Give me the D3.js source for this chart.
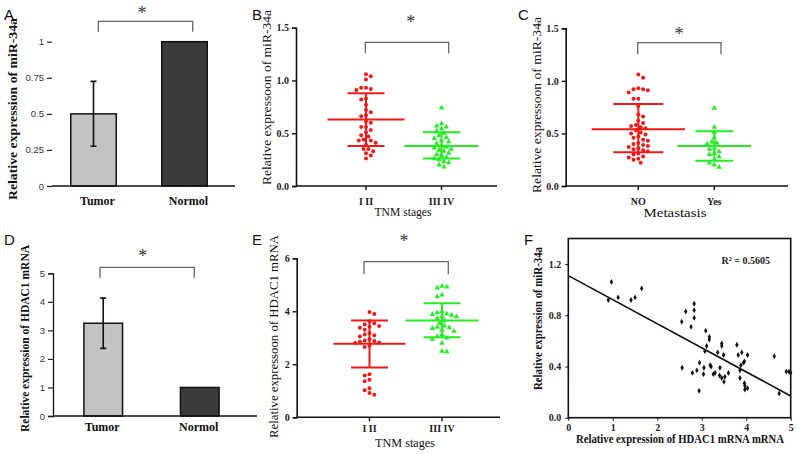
<!DOCTYPE html>
<html><head><meta charset="utf-8">
<script src="https://cdn.jsdelivr.net/npm/d3@7"></script>
<style>body{margin:0;background:#fff} svg{display:block}</style>
</head><body><svg id="c" width="800" height="454"></svg>
<script>
// ---------------- DATA ----------------
const barCats = ["Tumor", "Normol"];
const mirBarMeans = [0.5, 1.0];
const mirBarErr = [0.225, 0];
const mirBarTicks = [0, 0.25, 0.5, 0.75, 1];
const hdacBarMeans = [3.25, 1.0];
const hdacBarErr = [0.88, 0];
const hdacBarTicks = [0, 1, 2, 3, 4, 5];

const stageCats = ["I II", "III IV"];
const metCats = ["NO", "Yes"];
const mirTicks = [0, 0.5, 1.0, 1.5];
const hdacTicks = [0, 2, 4, 6];

// B: miR-34a by TNM stage
const mirStageI = [1.06, 1.04, 1.01, 0.93, 0.93, 0.92, 0.91, 0.83, 0.82, 0.77, 0.72, 0.70, 0.67, 0.66,
  0.61, 0.60, 0.56, 0.56, 0.53, 0.51, 0.48, 0.47, 0.44, 0.43, 0.43, 0.41, 0.39, 0.35, 0.35, 0.33, 0.31, 0.29, 0.26];
const mirStageIII = [0.74, 0.59, 0.57, 0.56, 0.54, 0.52, 0.50, 0.48, 0.46, 0.45, 0.43, 0.42, 0.40, 0.38,
  0.37, 0.36, 0.35, 0.34, 0.33, 0.31, 0.30, 0.29, 0.27, 0.26, 0.25, 0.23, 0.22, 0.20, 0.18];
const mirStageMean = [0.63, 0.38];
const mirStageHi = [0.88, 0.51];
const mirStageLo = [0.38, 0.26];

// C: miR-34a by metastasis
const mirMetNo = [1.06, 1.03, 0.93, 0.92, 0.92, 0.91, 0.89, 0.83, 0.83, 0.76, 0.68, 0.66, 0.62, 0.60, 0.58,
  0.57, 0.56, 0.55, 0.53, 0.51, 0.50, 0.49, 0.47, 0.46, 0.44, 0.43, 0.41, 0.40, 0.39, 0.38, 0.37, 0.36,
  0.35, 0.34, 0.33, 0.31, 0.30, 0.28, 0.27, 0.26, 0.25, 0.22];
const mirMetYes = [0.74, 0.56, 0.51, 0.46, 0.42, 0.41, 0.40, 0.36, 0.35, 0.33, 0.31, 0.30, 0.28, 0.25, 0.22, 0.20, 0.18];
const mirMetMean = [0.54, 0.38];
const mirMetHi = [0.78, 0.52];
const mirMetLo = [0.32, 0.24];

// E: HDAC1 mRNA by TNM stage
const hdacStageI = [3.97, 3.90, 3.62, 3.55, 3.50, 3.45, 3.42, 3.38, 3.30, 3.18, 3.12, 3.10, 3.05, 2.95, 2.90,
  2.88, 2.85, 2.82, 2.80, 2.70, 2.65, 1.62, 1.58, 1.42, 1.36, 1.10, 1.02, 0.92, 0.85];
const hdacStageIII = [4.95, 4.92, 4.88, 4.62, 4.55, 4.00, 3.95, 3.90, 3.88, 3.85, 3.82, 3.80, 3.72, 3.65,
  3.55, 3.45, 3.40, 3.38, 3.35, 3.30, 3.25, 3.12, 3.05, 3.00, 2.95, 2.80, 2.50, 2.48];
const hdacStageMean = [2.78, 3.65];
const hdacStageHi = [3.65, 4.30];
const hdacStageLo = [1.88, 3.02];

// F: correlation
const corrHdac = [0.90, 0.97, 1.12, 1.41, 1.50, 1.65, 2.55, 2.64, 2.76, 2.83, 2.83, 2.83, 2.56, 2.79, 2.89, 2.94,
  2.95, 3.05, 3.04, 3.07, 3.09, 3.11, 3.17, 3.17, 3.19, 3.21, 3.26, 3.30, 3.36, 3.41, 3.40, 3.45, 3.45, 3.45,
  3.49, 3.50, 3.52, 3.60, 3.79, 3.82, 3.88, 3.86, 3.86, 3.90, 3.94, 3.96, 3.96, 3.97, 3.97, 4.03, 4.03, 4.63,
  4.74, 4.90, 4.96, 5.00];
const corrMir = [0.92, 1.06, 0.94, 0.92, 0.94, 1.01, 0.75, 0.83, 0.71, 0.78, 0.89, 0.84, 0.39, 0.35, 0.37, 0.21,
  0.43, 0.39, 0.34, 0.52, 0.68, 0.56, 0.63, 0.61, 0.41, 0.40, 0.34, 0.35, 0.51, 0.39, 0.33, 0.58, 0.56, 0.31,
  0.49, 0.28, 0.32, 0.35, 0.57, 0.49, 0.41, 0.37, 0.31, 0.51, 0.43, 0.44, 0.27, 0.25, 0.22, 0.49, 0.23, 0.48,
  0.19, 0.36, 0.36, 0.35];
const fitIntercept = 1.11;
const fitSlope = -0.188;
const rSquared = "R\u00B2 = 0.5605";
const corrXTicks = [0, 1, 2, 3, 4, 5];
const corrYTicks = [0.0, 0.4, 0.8, 1.2];

// ---------------- DRAWING ----------------
const svg = d3.select("#c");
const SERIF = "'Liberation Serif','Times New Roman',serif";
const SANS = "'Liberation Sans',Arial,sans-serif";
const RED = "#f21818", GREEN = "#22ee22";

function letter(t, x, y) {
  svg.append("text").attr("x", x).attr("y", y).text(t)
    .attr("font-family", SANS).attr("font-size", 15).attr("fill", "#111");
}
function yLabel(t, cx, cy, len, bold) {
  svg.append("text").attr("transform", `translate(${cx},${cy}) rotate(-90)`)
    .attr("text-anchor", "middle").attr("font-family", SERIF)
    .attr("font-weight", bold ? "bold" : "normal").attr("font-size", 12)
    .attr("textLength", len).attr("lengthAdjust", "spacingAndGlyphs")
    .attr("fill", "#111").text(t);
}
function xLabel(t, cx, y, len, bold, fs) {
  svg.append("text").attr("x", cx).attr("y", y).attr("text-anchor", "middle")
    .attr("font-family", SERIF).attr("font-weight", bold ? "bold" : "normal")
    .attr("font-size", fs || 12).attr("textLength", len).attr("lengthAdjust", "spacingAndGlyphs")
    .attr("fill", "#111").text(t);
}
function star(x, y) {
  svg.append("text").attr("x", x).attr("y", y + 7).attr("text-anchor", "middle")
    .attr("font-family", SERIF).attr("font-size", 18).attr("fill", "#333").text("*");
}
function bracket(x1, x2, top, bot) {
  svg.append("path").attr("d", `M${x1},${bot}V${top}H${x2}V${bot}`)
    .attr("fill", "none").attr("stroke", "#666").attr("stroke-width", 1.3);
}

// ---- Bar panels (A, D) ----
function barPanel(o) {
  const y = d3.scaleLinear().domain(o.domain).range(o.yRange);
  const x = d3.scaleBand().domain(barCats).range(o.xRange).paddingInner(o.pi).paddingOuter(o.po);
  const g = svg.append("g");
  // y ticks
  const ya = g.append("g").attr("transform", `translate(${o.axisX},0)`)
    .call(d3.axisLeft(y).tickValues(o.ticks).tickSize(5).tickPadding(3).tickFormat(d => String(d)));
  ya.select(".domain").attr("stroke", o.yLine ? "#111" : "none").attr("stroke-width", 1.3);
  ya.selectAll(".tick line").attr("stroke", "#222").attr("stroke-width", 1.2);
  ya.selectAll(".tick text").attr("font-family", SANS).attr("font-size", 9.5).attr("fill", "#333");
  // bars
  g.selectAll("rect.bar").data(o.means).enter().append("rect")
    .attr("x", (d, i) => x(barCats[i])).attr("width", x.bandwidth())
    .attr("y", d => y(d)).attr("height", d => y(0) - y(d))
    .attr("fill", (d, i) => i === 0 ? "#c3c3c3" : "#3b3b3b")
    .attr("stroke", "#111").attr("stroke-width", 1.5);
  // error bars
  o.means.forEach((m, i) => {
    if (!o.err[i]) return;
    const cx = x(barCats[i]) + x.bandwidth() / 2;
    g.append("path").attr("d",
      `M${cx},${y(m - o.err[i])}V${y(m + o.err[i])}M${cx - 3},${y(m + o.err[i])}H${cx + 3}M${cx - 3},${y(m - o.err[i])}H${cx + 3}`)
      .attr("stroke", "#111").attr("stroke-width", 1.6).attr("fill", "none");
  });
  // x axis line
  g.append("line").attr("x1", o.axisX).attr("x2", o.xEnd).attr("y1", y(0)).attr("y2", y(0))
    .attr("stroke", "#111").attr("stroke-width", 1.3);
  barCats.forEach(c => {
    g.append("text").attr("x", x(c) + x.bandwidth() / 2 + o.labShift).attr("y", o.labY)
      .attr("text-anchor", "middle").attr("font-family", SERIF).attr("font-weight", "bold")
      .attr("font-size", 12).attr("fill", "#111").text(c);
  });
}

barPanel({domain: [0, 1], yRange: [186, 41.7], xRange: [48, 230], pi: 0.5, po: 0.25,
  ticks: mirBarTicks, axisX: 52, yLine: false, xEnd: 235, means: mirBarMeans, err: mirBarErr, labY: 205, labShift: 4});
barPanel({domain: [0, 5], yRange: [416, 273.3], xRange: [53, 250], pi: 0.6, po: 0.32,
  ticks: hdacBarTicks, axisX: 53, yLine: true, xEnd: 257, means: hdacBarMeans, err: hdacBarErr, labY: 431, labShift: -1});

// ---- Scatter (dot plot) panels (B, C, E) ----
function dodge(vals, y, cx, minDist, step) {
  const placed = [], out = [];
  const idx = vals.map((v, i) => i).sort((a, b) => vals[b] - vals[a]);
  idx.forEach((i, n) => {
    const py = y(vals[i]);
    let px = null;
    for (let k = 0; px === null; k++) {
      const offs = k === 0 ? [0] : (n % 2 ? [k * step, -k * step] : [-k * step, k * step]);
      for (const o of offs) {
        if (placed.every(p => Math.hypot(p[0] - (cx + o), p[1] - py) >= minDist)) { px = cx + o; break; }
      }
    }
    placed.push([px, py]); out[i] = [px, py];
  });
  return out;
}

function dotPanel(o) {
  const y = d3.scaleLinear().domain(o.domain).range(o.yRange);
  const x = d3.scalePoint().domain(o.cats).range(o.catX);
  const g = svg.append("g");
  const ya = g.append("g").attr("transform", `translate(${o.axisX},0)`)
    .call(d3.axisLeft(y).tickValues(o.ticks).tickSize(4).tickPadding(3).tickFormat(o.fmt));
  ya.select(".domain").attr("stroke", "#111").attr("stroke-width", 1.6);
  ya.selectAll(".tick line").attr("stroke", "#111").attr("stroke-width", 1.4);
  ya.selectAll(".tick text").attr("font-family", SERIF).attr("font-weight", "bold").attr("font-size", 10).attr("fill", "#222");
  // x axis
  g.append("line").attr("x1", o.axisX).attr("x2", o.xEnd).attr("y1", y(o.domain[0])).attr("y2", y(o.domain[0]))
    .attr("stroke", "#111").attr("stroke-width", 1.6);
  o.cats.forEach(c => {
    g.append("line").attr("x1", x(c)).attr("x2", x(c)).attr("y1", y(o.domain[0])).attr("y2", y(o.domain[0]) + 4)
      .attr("stroke", "#111").attr("stroke-width", 1.4);
    g.append("text").attr("x", x(c)).attr("y", o.catLabY).attr("text-anchor", "middle")
      .attr("font-family", SERIF).attr("font-weight", "bold").attr("font-size", 10).attr("fill", "#222").text(c);
  });
  // points
  const colors = [RED, GREEN];
  o.series.forEach((vals, s) => {
    const cx = x(o.cats[s]);
    const pos = dodge(vals, y, cx, 4.6, 2.4);
    if (s === 0) {
      g.selectAll(null).data(pos).enter().append("circle")
        .attr("cx", d => d[0]).attr("cy", d => d[1]).attr("r", 2).attr("fill", colors[s]);
    } else {
      g.selectAll(null).data(pos).enter().append("path")
        .attr("d", d3.symbol().type(d3.symbolTriangle).size(13))
        .attr("transform", d => `translate(${d[0]},${d[1]})`).attr("fill", colors[s]);
    }
    // mean & SD lines
    const c = colors[s];
    const hw = o.meanHW[s], sw = o.sdHW[s];
    const path = `M${cx - hw},${y(o.mean[s])}H${cx + hw}` +
      `M${cx - sw},${y(o.hi[s])}H${cx + sw}M${cx - sw},${y(o.lo[s])}H${cx + sw}` +
      `M${cx},${y(o.hi[s])}V${y(o.lo[s])}`;
    g.append("path").attr("d", path).attr("stroke", c).attr("stroke-width", 2).attr("fill", "none");
  });
}

const fmt1 = d3.format(".1f");
dotPanel({domain: [0, 1.5], yRange: [186, 27.7], cats: stageCats, catX: [366, 441.5], axisX: 296, xEnd: 497,
  ticks: mirTicks, fmt: fmt1, catLabY: 205, series: [mirStageI, mirStageIII],
  mean: mirStageMean, hi: mirStageHi, lo: mirStageLo, meanHW: [38.5, 37], sdHW: [18.5, 18.8]});
dotPanel({domain: [0, 1.5], yRange: [186, 28.3], cats: metCats, catX: [638.3, 714.3], axisX: 565.7, xEnd: 788,
  ticks: mirTicks, fmt: fmt1, catLabY: 205, series: [mirMetNo, mirMetYes],
  mean: mirMetMean, hi: mirMetHi, lo: mirMetLo, meanHW: [46.7, 37], sdHW: [25, 19]});
dotPanel({domain: [0, 6], yRange: [417.3, 258.3], cats: stageCats, catX: [369.5, 442], axisX: 296.7, xEnd: 500,
  ticks: hdacTicks, fmt: d3.format("d"), catLabY: 432, series: [hdacStageI, hdacStageIII],
  mean: hdacStageMean, hi: hdacStageHi, lo: hdacStageLo, meanHW: [36, 36.5], sdHW: [18.5, 18.5]});

// ---- Panel F: correlation ----
(function () {
  const x = d3.scaleLinear().domain([0, 5]).range([568.3, 790.7]);
  const y = d3.scaleLinear().domain([0, 1.4]).range([417.7, 238.5]);
  const g = svg.append("g");
  g.append("rect").attr("x", x(0)).attr("y", y(1.4)).attr("width", x(5) - x(0)).attr("height", y(0) - y(1.4))
    .attr("fill", "none").attr("stroke", "#111").attr("stroke-width", 1.6);
  const xa = g.append("g").attr("transform", `translate(0,${y(0)})`)
    .call(d3.axisBottom(x).tickValues(corrXTicks).tickSize(3).tickPadding(3).tickFormat(d3.format("d")));
  xa.select(".domain").remove();
  xa.selectAll(".tick line").attr("stroke", "#111");
  xa.selectAll(".tick text").attr("font-family", SERIF).attr("font-weight", "bold").attr("font-size", 10).attr("fill", "#222");
  const ya = g.append("g").attr("transform", `translate(${x(0)},0)`)
    .call(d3.axisLeft(y).tickValues(corrYTicks).tickSize(3).tickPadding(4).tickFormat(d3.format(".1f")));
  ya.select(".domain").remove();
  ya.selectAll(".tick line").attr("stroke", "#111");
  ya.selectAll(".tick text").attr("font-family", SERIF).attr("font-weight", "bold").attr("font-size", 10).attr("fill", "#222");
  g.selectAll(null).data(corrHdac).enter().append("path")
    .attr("d", d3.symbol().type(d3.symbolDiamond).size(10))
    .attr("transform", (d, i) => `translate(${x(d)},${y(corrMir[i])})`).attr("fill", "#111");
  g.append("line").attr("x1", x(0)).attr("y1", y(fitIntercept))
    .attr("x2", x(5)).attr("y2", y(fitIntercept + fitSlope * 5))
    .attr("stroke", "#111").attr("stroke-width", 1.6);
  g.append("text").attr("x", 721.5).attr("y", 264).attr("font-family", SERIF).attr("font-weight", "bold")
    .attr("font-size", 10).attr("fill", "#222").text(rSquared);
})();

// ---- Labels & annotations ----
letter("A", 4, 20); letter("B", 252, 20); letter("C", 518, 20);
letter("D", 4, 245); letter("E", 252, 245); letter("F", 524, 245);

yLabel("Relative expression of  miR-34a", 17, 109, 182, true);
yLabel("Relative expressoon of miR-34a", 271, 97.5, 175, false);
yLabel("Relative expressoon of miR-34a", 541, 105, 176, false);
yLabel("Relative expression of HDAC1 mRNA", 29, 338.5, 187, true);
yLabel("Relative expressoon of HDAC1 mRNA", 278, 336.5, 203, false);
yLabel("Relative expression of  miR-34a", 542, 318.5, 143, true);

xLabel("TNM stages", 403, 216, 57, false);
xLabel("Metastasis", 675, 217, 63, false);
xLabel("TNM stages", 405, 447, 60, false);
xLabel("Relative expression of HDAC1 mRNA mRNA", 680, 443, 208, true, 11.5);

bracket(98.3, 192.7, 21.3, 31.7); star(142, 12);
bracket(365.3, 448.7, 42.3, 53.3); star(410.7, 21);
bracket(637.7, 721, 42.7, 54.3); star(679, 33);
bracket(100, 194.3, 267.3, 277.7); star(142.7, 255);
bracket(364, 448.3, 261.7, 274.3); star(404, 240);
</script></body></html>
